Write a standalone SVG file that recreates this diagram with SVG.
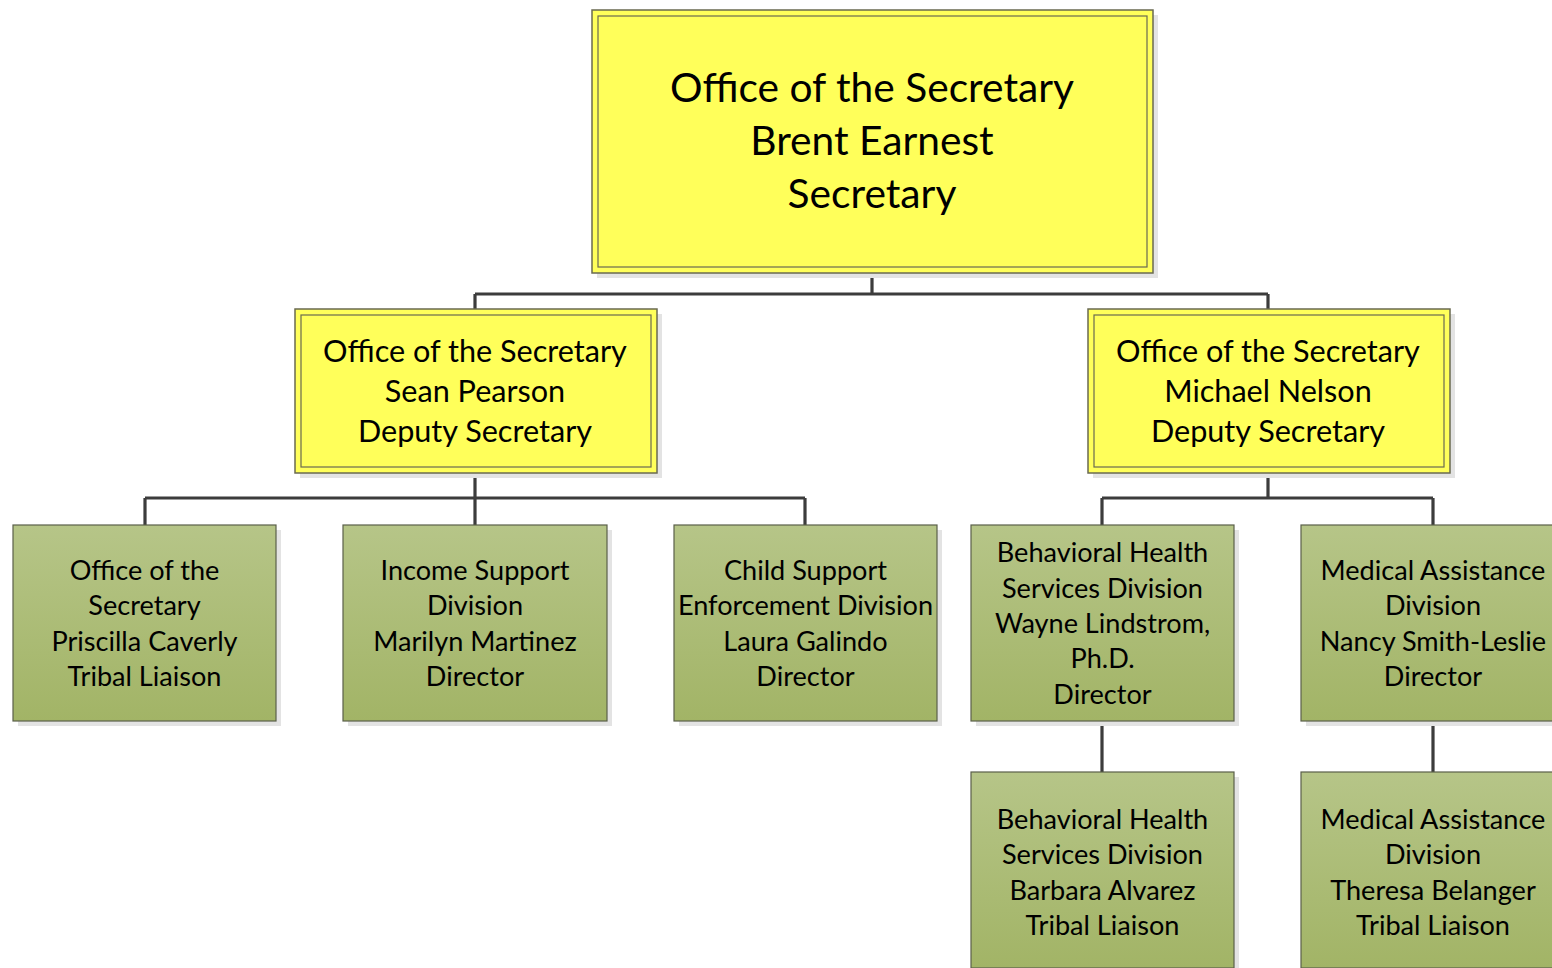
<svg xmlns="http://www.w3.org/2000/svg" width="1552" height="968" viewBox="0 0 1552 968">
<defs>
<linearGradient id="g" x1="0" y1="0" x2="0" y2="1">
<stop offset="0" stop-color="#b6c588"/>
<stop offset="1" stop-color="#a2b466"/>
</linearGradient>
<style>
.sh{fill:#e3e3e3}
.y{fill:#ffff5a;stroke:#6a6a50;stroke-width:1.5}
.yi{fill:none;stroke:#6a6a50;stroke-width:1.2}
.gr{fill:url(#g);stroke:#5a5f4a;stroke-width:1.2}
.c{fill:none;stroke:#3c3c3c;stroke-width:3.2}
text{font-family:Lato,"Open Sans",sans-serif;fill:#000;text-anchor:middle}
.t1{font-size:40.7px}
.t2{font-size:30.6px}
.t3{font-size:27.1px}
</style>
</defs>
<rect width="1552" height="968" fill="#fff"/>
<g id="connectors">
<path class="c" d="M872 273V294M475 294H1268M475 294V309M1268 294V309"/>
<path class="c" d="M475 473V498M145 498H805M145 498V525M475 498V525M805 498V525"/>
<path class="c" d="M1268 473V498M1102 498H1433M1102 498V525M1433 498V525"/>
<path class="c" d="M1102 721V772M1433 721V772"/>
</g>
<g id="n-secretary">
<rect class="sh" x="597" y="15" width="561" height="263"/>
<rect class="y" x="592" y="10" width="561" height="263"/>
<rect class="yi" x="598" y="16" width="549" height="251"/>
<text class="t1" x="872" y="102">Office of the Secretary</text>
<text class="t1" x="872" y="155">Brent Earnest</text>
<text class="t1" x="872" y="208">Secretary</text>
</g>
<g id="n-pearson">
<rect class="sh" x="300" y="314" width="362" height="164"/>
<rect class="y" x="295" y="309" width="362" height="164"/>
<rect class="yi" x="301" y="315" width="350" height="152"/>
<text class="t2" x="475" y="362">Office of the Secretary</text>
<text class="t2" x="475" y="402">Sean Pearson</text>
<text class="t2" x="475" y="442">Deputy Secretary</text>
</g>
<g id="n-nelson">
<rect class="sh" x="1093" y="314" width="362" height="164"/>
<rect class="y" x="1088" y="309" width="362" height="164"/>
<rect class="yi" x="1094" y="315" width="350" height="152"/>
<text class="t2" x="1268" y="362">Office of the Secretary</text>
<text class="t2" x="1268" y="402">Michael Nelson</text>
<text class="t2" x="1268" y="442">Deputy Secretary</text>
</g>
<g id="n-caverly">
<rect class="sh" x="18" y="530" width="263" height="196"/>
<rect class="gr" x="13" y="525" width="263" height="196"/>
<text class="t3" x="144.5" y="580">Office of the</text>
<text class="t3" x="144.5" y="615">Secretary</text>
<text class="t3" x="144.5" y="651">Priscilla Caverly</text>
<text class="t3" x="144.5" y="686">Tribal Liaison</text>
</g>
<g id="n-martinez">
<rect class="sh" x="348" y="530" width="264" height="196"/>
<rect class="gr" x="343" y="525" width="264" height="196"/>
<text class="t3" x="475" y="580">Income Support</text>
<text class="t3" x="475" y="615">Division</text>
<text class="t3" x="475" y="651">Marilyn Martinez</text>
<text class="t3" x="475" y="686">Director</text>
</g>
<g id="n-galindo">
<rect class="sh" x="679" y="530" width="263" height="196"/>
<rect class="gr" x="674" y="525" width="263" height="196"/>
<text class="t3" x="805.5" y="580">Child Support</text>
<text class="t3" x="805.5" y="615">Enforcement Division</text>
<text class="t3" x="805.5" y="651">Laura Galindo</text>
<text class="t3" x="805.5" y="686">Director</text>
</g>
<g id="n-lindstrom">
<rect class="sh" x="976" y="530" width="263" height="196"/>
<rect class="gr" x="971" y="525" width="263" height="196"/>
<text class="t3" x="1102.5" y="562">Behavioral Health</text>
<text class="t3" x="1102.5" y="598">Services Division</text>
<text class="t3" x="1102.5" y="633">Wayne Lindstrom,</text>
<text class="t3" x="1102.5" y="668">Ph.D.</text>
<text class="t3" x="1102.5" y="704">Director</text>
</g>
<g id="n-smithleslie">
<rect class="sh" x="1306" y="530" width="263" height="196"/>
<rect class="gr" x="1301" y="525" width="263" height="196"/>
<text class="t3" x="1433" y="580">Medical Assistance</text>
<text class="t3" x="1433" y="615">Division</text>
<text class="t3" x="1433" y="651">Nancy Smith-Leslie</text>
<text class="t3" x="1433" y="686">Director</text>
</g>
<g id="n-alvarez">
<rect class="sh" x="976" y="777" width="263" height="196"/>
<rect class="gr" x="971" y="772" width="263" height="196"/>
<text class="t3" x="1102.5" y="829">Behavioral Health</text>
<text class="t3" x="1102.5" y="864">Services Division</text>
<text class="t3" x="1102.5" y="900">Barbara Alvarez</text>
<text class="t3" x="1102.5" y="935">Tribal Liaison</text>
</g>
<g id="n-belanger">
<rect class="sh" x="1306" y="777" width="263" height="196"/>
<rect class="gr" x="1301" y="772" width="263" height="196"/>
<text class="t3" x="1433" y="829">Medical Assistance</text>
<text class="t3" x="1433" y="864">Division</text>
<text class="t3" x="1433" y="900">Theresa Belanger</text>
<text class="t3" x="1433" y="935">Tribal Liaison</text>
</g>
</svg>
